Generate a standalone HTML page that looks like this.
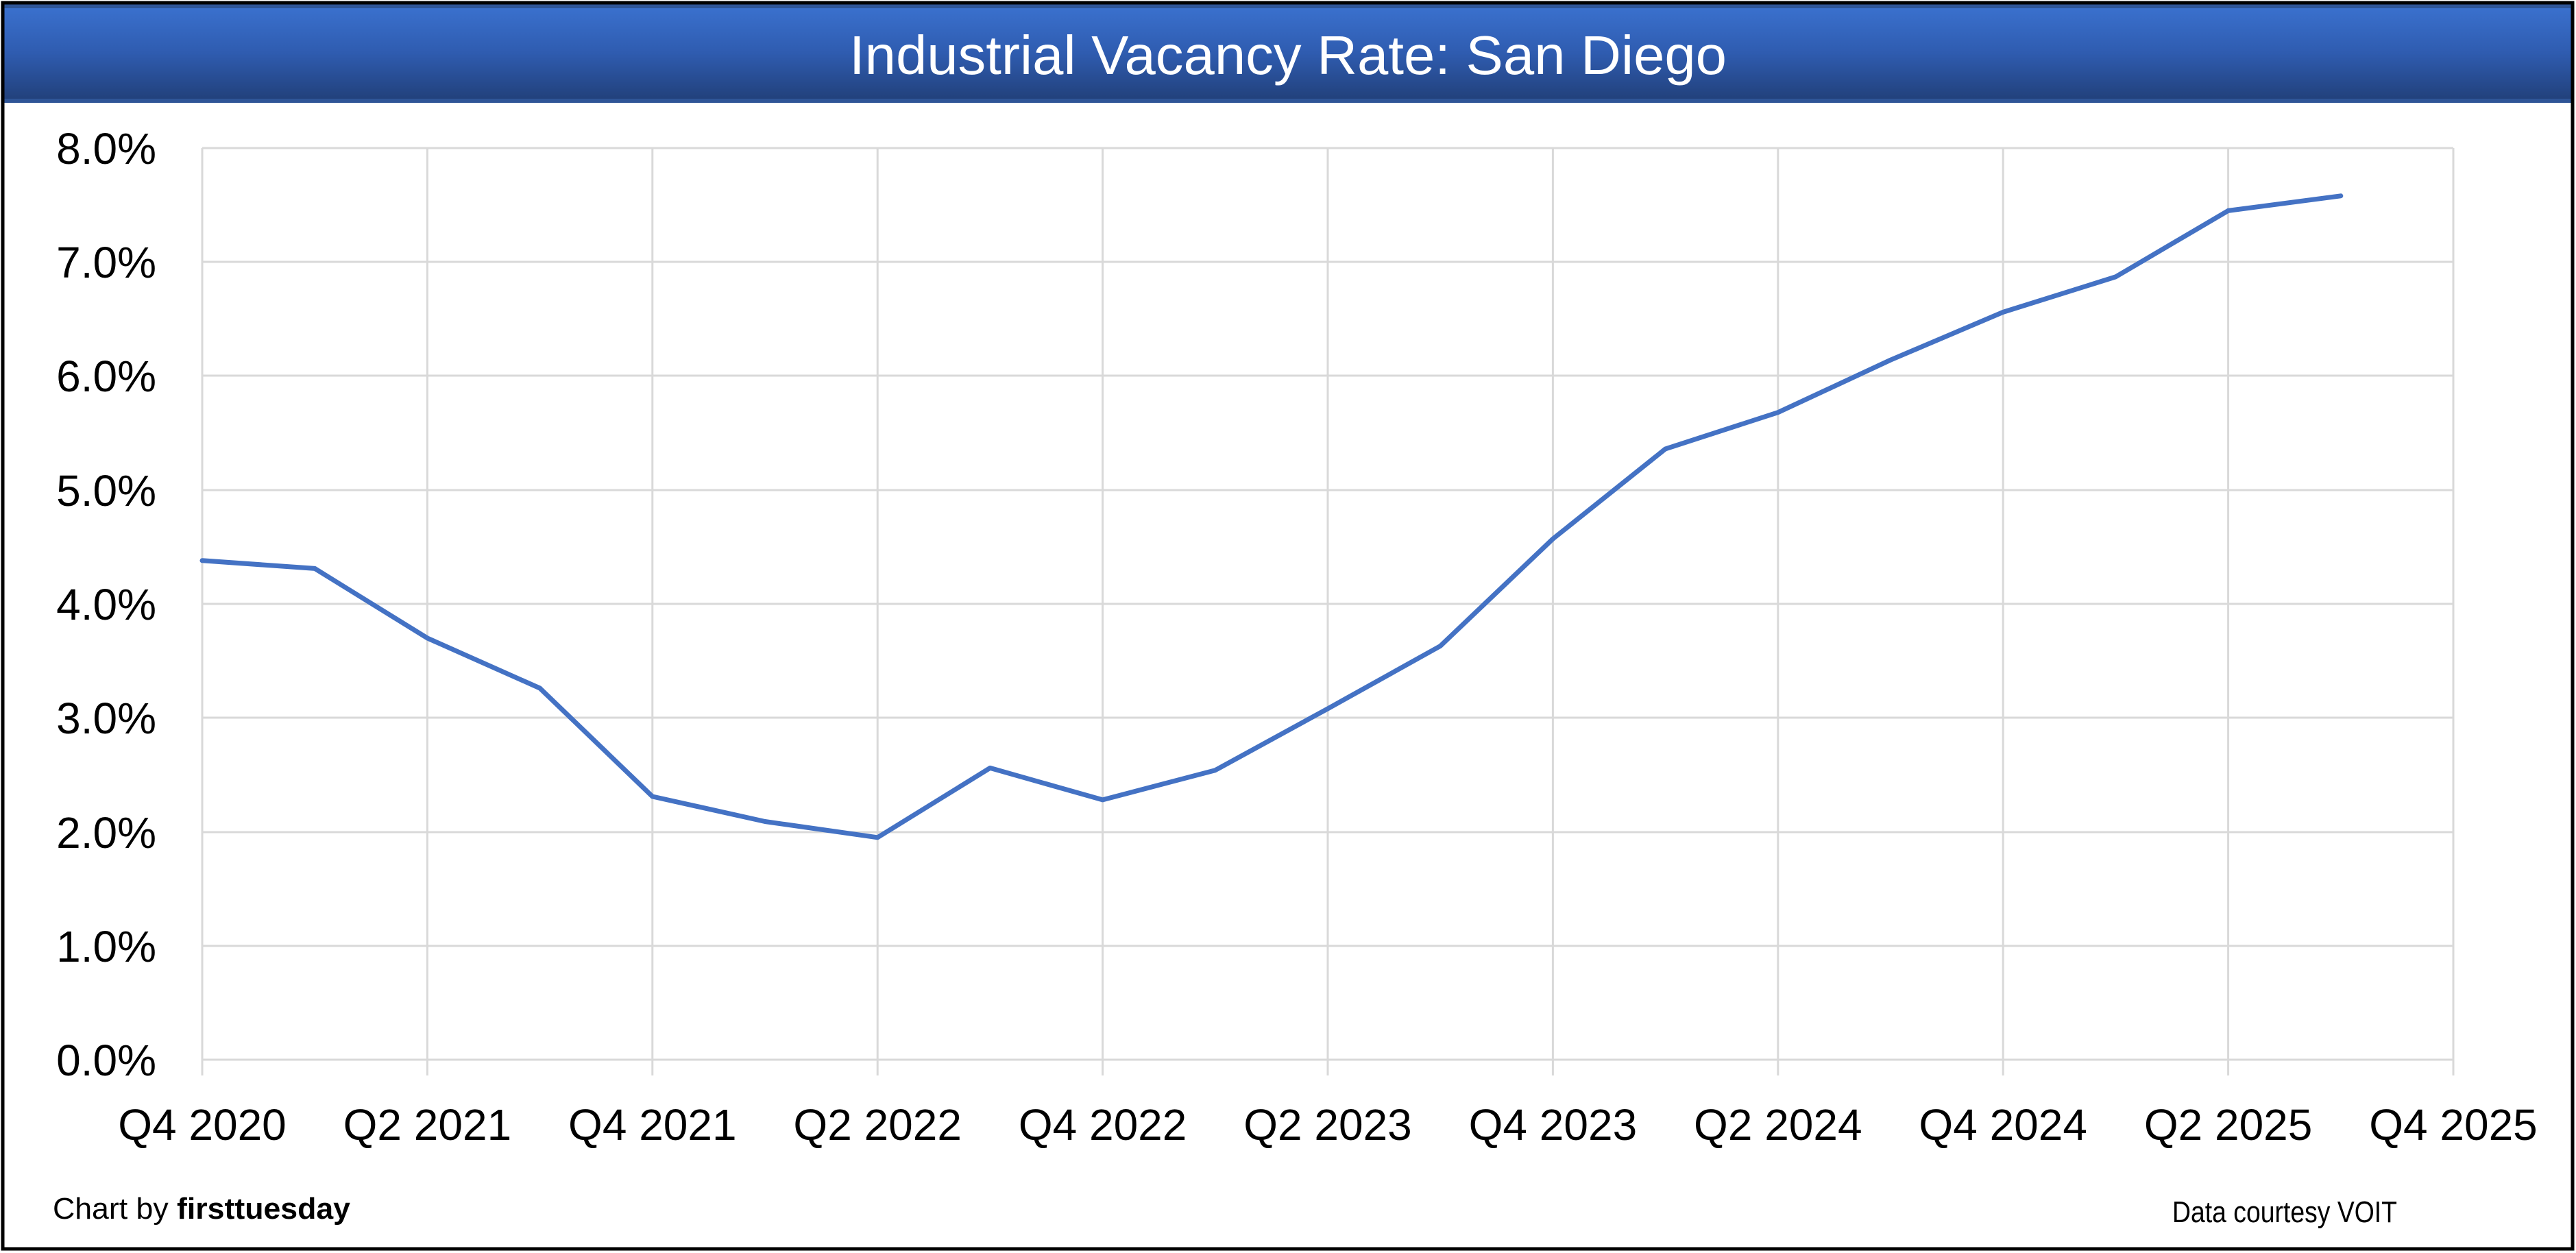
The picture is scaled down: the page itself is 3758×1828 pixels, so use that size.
<!DOCTYPE html>
<html><head><meta charset="utf-8"><style>
html,body{margin:0;padding:0;background:#fff;}
svg{display:block;}
</style></head><body>
<svg width="3758" height="1828" viewBox="0 0 3758 1828" xmlns="http://www.w3.org/2000/svg">
<defs>
<linearGradient id="tg" x1="0" y1="0" x2="0" y2="1">
<stop offset="0" stop-color="#3b72d0"/>
<stop offset="0.5" stop-color="#2f5cb0"/>
<stop offset="1" stop-color="#213f78"/>
</linearGradient>
</defs>
<rect x="0" y="0" width="3758" height="1828" fill="#fff"/>
<rect x="6" y="5" width="3746" height="144" fill="url(#tg)"/>
<rect x="6" y="5" width="3746" height="7" fill="#2f5597"/>
<rect x="6" y="144" width="3746" height="6" fill="#2f5597"/>
<text x="1239" y="108" font-family="Liberation Sans, sans-serif" font-size="80" fill="#fff" textLength="1280" lengthAdjust="spacingAndGlyphs">Industrial Vacancy Rate: San Diego</text>
<g stroke="#d9d9d9" stroke-width="3">
<line x1="295" y1="216" x2="3579" y2="216"/>
<line x1="295" y1="382" x2="3579" y2="382"/>
<line x1="295" y1="548" x2="3579" y2="548"/>
<line x1="295" y1="715" x2="3579" y2="715"/>
<line x1="295" y1="881" x2="3579" y2="881"/>
<line x1="295" y1="1047" x2="3579" y2="1047"/>
<line x1="295" y1="1214" x2="3579" y2="1214"/>
<line x1="295" y1="1380" x2="3579" y2="1380"/>
<line x1="295" y1="1546" x2="3579" y2="1546"/>
<line x1="295.0" y1="216" x2="295.0" y2="1569"/>
<line x1="623.4" y1="216" x2="623.4" y2="1569"/>
<line x1="951.8" y1="216" x2="951.8" y2="1569"/>
<line x1="1280.2" y1="216" x2="1280.2" y2="1569"/>
<line x1="1608.6" y1="216" x2="1608.6" y2="1569"/>
<line x1="1937.0" y1="216" x2="1937.0" y2="1569"/>
<line x1="2265.4" y1="216" x2="2265.4" y2="1569"/>
<line x1="2593.8" y1="216" x2="2593.8" y2="1569"/>
<line x1="2922.2" y1="216" x2="2922.2" y2="1569"/>
<line x1="3250.6" y1="216" x2="3250.6" y2="1569"/>
<line x1="3579.0" y1="216" x2="3579.0" y2="1569"/>
</g>
<g font-family="Liberation Sans, sans-serif" font-size="64" fill="#000" text-anchor="end">
<text x="228" y="239">8.0%</text>
<text x="228" y="405">7.0%</text>
<text x="228" y="571">6.0%</text>
<text x="228" y="738">5.0%</text>
<text x="228" y="904">4.0%</text>
<text x="228" y="1070">3.0%</text>
<text x="228" y="1237">2.0%</text>
<text x="228" y="1403">1.0%</text>
<text x="228" y="1569">0.0%</text>
</g>
<g font-family="Liberation Sans, sans-serif" font-size="64" fill="#000" text-anchor="middle">
<text x="295.0" y="1663">Q4 2020</text>
<text x="623.4" y="1663">Q2 2021</text>
<text x="951.8" y="1663">Q4 2021</text>
<text x="1280.2" y="1663">Q2 2022</text>
<text x="1608.6" y="1663">Q4 2022</text>
<text x="1937.0" y="1663">Q2 2023</text>
<text x="2265.4" y="1663">Q4 2023</text>
<text x="2593.8" y="1663">Q2 2024</text>
<text x="2922.2" y="1663">Q4 2024</text>
<text x="3250.6" y="1663">Q2 2025</text>
<text x="3579.0" y="1663">Q4 2025</text>
</g>
<polyline fill="none" stroke="#4472c4" stroke-width="7" stroke-linejoin="round" stroke-linecap="round" points="295.0,817.8 459.2,829.4 623.4,930.9 787.6,1004.0 951.8,1162.0 1116.0,1198.5 1280.2,1221.8 1444.4,1120.4 1608.6,1166.9 1772.8,1123.7 1937.0,1033.9 2101.2,942.5 2265.4,786.2 2429.6,654.9 2593.8,601.7 2758.0,525.2 2922.2,455.4 3086.4,403.9 3250.6,307.4 3414.8,285.8"/>
<text x="77" y="1778" font-family="Liberation Sans, sans-serif" font-size="44" fill="#000" textLength="434" lengthAdjust="spacingAndGlyphs">Chart by <tspan font-weight="bold">firsttuesday</tspan></text>
<text x="3169" y="1783" font-family="Liberation Sans, sans-serif" font-size="44" fill="#000" textLength="328" lengthAdjust="spacingAndGlyphs">Data courtesy VOIT</text>
<rect x="4" y="4" width="3749" height="1818" fill="none" stroke="#000" stroke-width="5"/>
</svg>
</body></html>
